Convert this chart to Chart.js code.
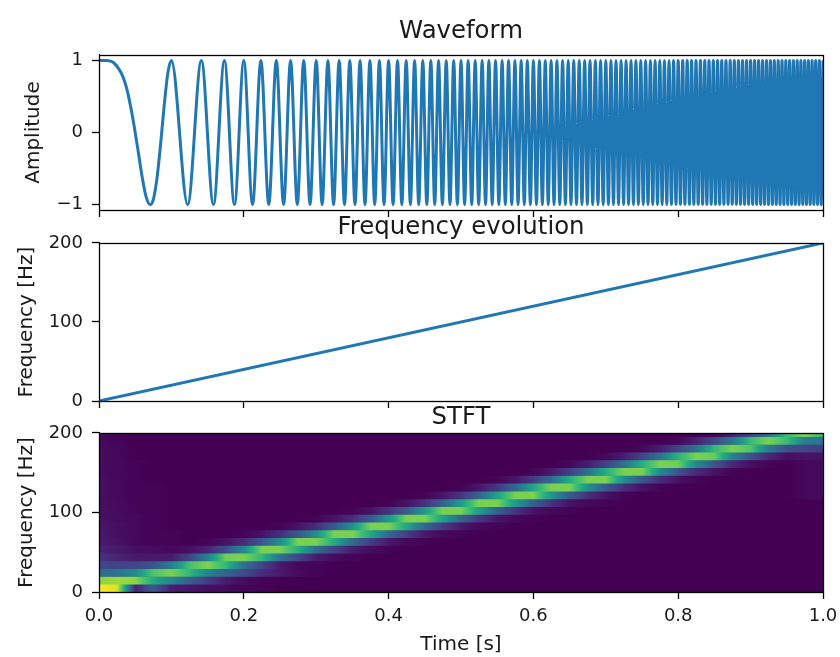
<!DOCTYPE html>
<html><head><meta charset="utf-8">
<style>
html,body{margin:0;padding:0;background:#fff;width:840px;height:657px;overflow:hidden}
canvas{position:absolute;left:0}
</style>
<script src="https://cdn.jsdelivr.net/npm/chart.js@4/dist/chart.umd.min.js"></script>
</head><body>
<canvas id="c1" width="840" height="230" style="top:0"></canvas>
<canvas id="c2" width="840" height="215" style="top:200px"></canvas>
<canvas id="c3" width="840" height="267" style="top:390px"></canvas>
<script>
const xTickValues=[0,0.2,0.4,0.6,0.8,1];
const ampTickValues=[-1,0,1];
const ampTickLabels=["\u22121","0","1"];
const freqTickValues=[0,100,200];
const freqTimes=[0,1];
const freqValues=[0,200];
const waveTimes=[0,0.01,0.02,0.03,0.035,0.04,0.045,0.05,0.055,0.06,0.065,0.0707,0.075,0.08,0.085,0.09,0.095,0.1,
0.1225,0.1414,0.1581,0.1732,0.1871,0.2,0.2121,0.2236,0.2345,0.2449,0.255,0.2646,0.2739,0.2828,0.2915,0.3,
0.3082,0.3162,0.324,0.3317,0.3391,0.3464,0.3536,0.3606,0.3674,0.3742,0.3808,0.3873,0.3937,0.4,0.4062,0.4123,
0.4183,0.4243,0.4301,0.4359,0.4416,0.4472,0.4528,0.4583,0.4637,0.469,0.4743,0.4796,0.4848,0.4899,0.495,0.5,
0.505,0.5099,0.5148,0.5196,0.5244,0.5292,0.5339,0.5385,0.5431,0.5477,0.5523,0.5568,0.5612,0.5657,0.5701,0.5745,
0.5788,0.5831,0.5874,0.5916,0.5958,0.6,0.6042,0.6083,0.6124,0.6164,0.6205,0.6245,0.6285,0.6325,0.6364,0.6403,
0.6442,0.6481,0.6519,0.6557,0.6595,0.6633,0.6671,0.6708,0.6745,0.6782,0.6819,0.6856,0.6892,0.6928,0.6964,0.7,
0.7036,0.7071,0.7106,0.7141,0.7176,0.7211,0.7246,0.728,0.7314,0.7348,0.7382,0.7416,0.745,0.7483,0.7517,0.755,
0.7583,0.7616,0.7649,0.7681,0.7714,0.7746,0.7778,0.781,0.7842,0.7874,0.7906,0.7937,0.7969,0.8,0.8031,0.8062,
0.8093,0.8124,0.8155,0.8185,0.8216,0.8246,0.8276,0.8307,0.8337,0.8367,0.8396,0.8426,0.8456,0.8485,0.8515,0.8544,
0.8573,0.8602,0.8631,0.866,0.8689,0.8718,0.8746,0.8775,0.8803,0.8832,0.886,0.8888,0.8916,0.8944,0.8972,0.9,
0.9028,0.9055,0.9083,0.911,0.9138,0.9165,0.9192,0.922,0.9247,0.9274,0.9301,0.9327,0.9354,0.9381,0.9407,0.9434,
0.946,0.9487,0.9513,0.9539,0.9566,0.9592,0.9618,0.9644,0.967,0.9695,0.9721,0.9747,0.9772,0.9798,0.9823,0.9849,
0.9874,0.9899,0.9925,0.995,0.9975,1];
const waveAmps=[1,0.998,0.97,0.84,0.72,0.54,0.29,0,-0.32,-0.64,-0.89,-1,-0.93,-0.64,-0.17,0.37,0.82,1,
-1,1,-1,1,-1,1,-1,1,-1,1,-1,1,-1,1,-1,1,
-1,1,-1,1,-1,1,-1,1,-1,1,-1,1,-1,1,-1,1,
-1,1,-1,1,-1,1,-1,1,-1,1,-1,1,-1,1,-1,1,
-1,1,-1,1,-1,1,-1,1,-1,1,-1,1,-1,1,-1,1,
-1,1,-1,1,-1,1,-1,1,-1,1,-1,1,-1,1,-1,1,
-1,1,-1,1,-1,1,-1,1,-1,1,-1,1,-1,1,-1,1,
-1,1,-1,1,-1,1,-1,1,-1,1,-1,1,-1,1,-1,1,
-1,1,-1,1,-1,1,-1,1,-1,1,-1,1,-1,1,-1,1,
-1,1,-1,1,-1,1,-1,1,-1,1,-1,1,-1,1,-1,1,
-1,1,-1,1,-1,1,-1,1,-1,1,-1,1,-1,1,-1,1,
-1,1,-1,1,-1,1,-1,1,-1,1,-1,1,-1,1,-1,1,
-1,1,-1,1,-1,1,-1,1,-1,1,-1,1,-1,1,-1,1,
-1,1,-1,1,-1,1];
const stftTimes=[0,0.025,0.05,0.075,0.1,0.125,0.15,0.175,0.2,0.225,0.25,0.275,0.3,0.325,0.35,0.375,0.4,0.425,0.45,0.475,0.5,0.525,0.55,0.575,0.6,0.625,0.65,0.675,0.7,0.725,0.75,0.775,0.8,0.825,0.85,0.875,0.9,0.925,0.95,0.975,1];
const stftFreqCentres=[4.88,14.65,24.41,34.18,43.95,53.71,63.48,73.24,83.01,92.77,102.54,112.3,122.07,131.84,141.6,151.37,161.13,170.9,180.66,190.43,200.2];
const stftRows=[
[100,95,10,28,8,6,4,3,1,1],
[82,85,83,60,45,30,18,8,3,1],
[35,38,48,72,80,66,45,32,22,13,7,3,1],
[22,20,20,26,42,70,80,66,37,20,7,2,1],
[15,10,7,7,8,20,44,78,80,66,37,20,8,3,1],
[10,7,4,3,2,4,10,24,47,80,80,62,36,19,8,3,1],
[8,5,2,1,1,0,1,5,12,26,48,80,80,61,35,18,7,2,1],
[7,4,2,1,1,0,0,0,1,5,13,27,49,80,80,60,34,18,7,2,1],
[6,4,2,1,0,0,0,0,0,0,1,5,13,28,50,80,80,59,33,17,7,2,1],
[5,3,2,1,0,0,0,0,0,0,0,0,1,5,13,28,52,80,80,57,32,16,6,2,1],
[5,3,1,1,0,0,0,0,0,0,0,0,0,0,1,5,14,29,54,80,80,55,31,15,5,2,1],
[4,3,1,1,0,0,0,0,0,0,0,0,0,0,0,0,1,5,14,31,55,80,80,54,30,14,5,2,1],
[4,2,1,1,0,0,0,0,0,0,0,0,0,0,0,0,0,0,1,6,15,32,57,80,80,52,29,13,5,1,0,0,0,0,0,0,0,0,0,2,3],
[4,2,1,1,0,0,0,0,0,0,0,0,0,0,0,0,0,0,0,0,1,6,16,33,59,80,80,50,28,13,5,1,0,0,0,0,0,0,0,2,3],
[4,2,1,0,0,0,0,0,0,0,0,0,0,0,0,0,0,0,0,0,0,0,1,6,17,35,61,80,80,49,27,12,5,1,0,0,0,0,0,2,3],
[3,2,1,0,0,0,0,0,0,0,0,0,0,0,0,0,0,0,0,0,0,0,0,0,1,7,18,36,62,80,80,48,26,12,5,1,0,0,0,2,3],
[3,2,1,0,0,0,0,0,0,0,0,0,0,0,0,0,0,0,0,0,0,0,0,0,0,0,2,8,19,37,62,80,78,47,26,11,4,1,0,2,3],
[3,2,0,0,0,0,0,0,0,0,0,0,0,0,0,0,0,0,0,0,0,0,0,0,0,0,0,0,2,8,20,38,64,80,76,44,25,11,4,5,5],
[3,2,0,0,0,0,0,0,0,0,0,0,0,0,0,0,0,0,0,0,0,0,0,0,0,0,0,0,0,0,2,8,20,38,66,80,72,42,24,20,18],
[3,1,0,0,0,0,0,0,0,0,0,0,0,0,0,0,0,0,0,0,0,0,0,0,0,0,0,0,0,0,0,0,2,9,21,39,68,80,68,42,38],
[3,1,0,0,0,0,0,0,0,0,0,0,0,0,0,0,0,0,0,0,0,0,0,0,0,0,0,0,0,0,0,0,0,0,2,9,21,39,68,80,66]
];
const viridisStops=["#440154","#482475","#414487","#355f8d","#2a788e","#21918c","#22a884","#44bf70","#7ad151","#bddf26","#fde725"];
const lineColor="#1f77b4";
const textColor="#1a1a1a";
const fontFamily="'DejaVu Sans'";

function hexRgb(h){return [1,3,5].map(i=>parseInt(h.substr(i,2),16));}
const stopRgb=viridisStops.map(hexRgb);
function viridis(p){
  const v=Math.max(0,Math.min(1,p/100))*(stopRgb.length-1);
  const i=Math.min(stopRgb.length-2,Math.floor(v)),f=v-i;
  const a=stopRgb[i],b=stopRgb[i+1];
  return `rgb(${a.map((c,j)=>Math.round(c+(b[j]-c)*f)).join(",")})`;
}
function rowGradient(ctx){
  const chart=ctx.chart,xs=chart.scales.x,row=stftRows[ctx.dataIndex];
  if(!row||!xs) return viridisStops[0];
  const x0=xs.getPixelForValue(stftTimes[0]),x1=xs.getPixelForValue(stftTimes[stftTimes.length-1]);
  if(!isFinite(x0)||!isFinite(x1)) return viridisStops[0];
  const g=chart.ctx.createLinearGradient(x0,0,x1,0);
  const span=stftTimes[stftTimes.length-1]-stftTimes[0];
  for(let i=0;i<stftTimes.length-1;i++){
    const a=row[i]??0,b=row[i+1]??0;
    for(let s=0;s<8;s++){
      const f=s/8;
      g.addColorStop((stftTimes[i]+(stftTimes[i+1]-stftTimes[i])*f-stftTimes[0])/span,viridis(a+(b-a)*f));
    }
  }
  g.addColorStop(1,viridis(row[stftTimes.length-1]??0));
  return g;
}
const framePlugin={id:"frame",
  beforeDatasetsDraw(chart,args,opts){
    if(opts.fill){const a=chart.chartArea;chart.ctx.save();chart.ctx.fillStyle=opts.fill;chart.ctx.fillRect(a.left,a.top,a.right-a.left,a.bottom-a.top);chart.ctx.restore();}
  },
  afterDatasetsDraw(chart){
    const a=chart.chartArea,c=chart.ctx;
    c.save();c.strokeStyle="#000";c.lineWidth=1.3;
    c.strokeRect(Math.round(a.left)+0.5,Math.round(a.top)+0.5,Math.round(a.right-a.left),Math.round(a.bottom-a.top));
    c.restore();
  }};
function xAxis(opts){
  return {type:"linear",min:0,max:1,offset:false,position:"bottom",
    afterBuildTicks(s){s.ticks=xTickValues.map(v=>({value:v}));},
    afterFit(s){s.height=opts.height;s.paddingLeft=0;s.paddingRight=0;},
    border:{display:true,color:"#000",width:1},
    grid:{display:true,drawOnChartArea:false,drawTicks:true,tickLength:7,tickColor:"#000",tickWidth:1.3,offset:false},
    ticks:{display:opts.labels,maxRotation:0,autoSkip:false,color:textColor,padding:7,font:{family:fontFamily,size:18},
      callback:v=>Number(v).toFixed(1)},
    title:{display:!!opts.title,text:opts.title||"",color:textColor,padding:{top:3,bottom:0},font:{family:fontFamily,size:20}}};
}
function yAxis(opts){
  return {type:"linear",min:opts.min,max:opts.max,offset:false,position:"left",
    afterBuildTicks(s){s.ticks=opts.ticks.map(v=>({value:v}));},
    afterFit(s){s.width=99;s.paddingTop=0;s.paddingBottom=0;},
    border:{display:true,color:"#000",width:1},
    grid:{display:true,drawOnChartArea:false,drawTicks:true,tickLength:7,tickColor:"#000",tickWidth:1.3,offset:false},
    ticks:{autoSkip:false,color:textColor,padding:9,font:{family:fontFamily,size:18},
      callback:opts.labels?((v,i)=>opts.labels[i]):(v=>String(v))},
    title:{display:true,text:opts.title,color:textColor,padding:{top:opts.titlePad,bottom:0},font:{family:fontFamily,size:20}}};
}
function basePlugins(title,titlePad){
  return {legend:{display:false},tooltip:{enabled:false},
      title:{display:true,text:title,color:textColor,align:"center",fullSize:false,
        font:{family:fontFamily,size:24.4,weight:"normal",lineHeight:1.2},padding:titlePad}};
}
function baseOptions(bottomPad){
  return {responsive:false,animation:false,events:[],
    layout:{padding:{left:0,right:17,top:0,bottom:bottomPad}}};
}
Chart.defaults.font.family=fontFamily;

new Chart(document.getElementById("c1"),{type:"line",plugins:[framePlugin],
  data:{datasets:[{data:waveTimes.map((t,i)=>({x:t,y:waveAmps[i]})),borderColor:lineColor,borderWidth:3,pointRadius:0,cubicInterpolationMode:"monotone",fill:false}]},
  options:Object.assign(baseOptions(12),{plugins:basePlugins("Waveform",{top:17.4,bottom:8.3}),scales:{
    x:xAxis({height:8,labels:false}),
    y:yAxis({min:-1.075,max:1.075,ticks:ampTickValues,labels:ampTickLabels,title:"Amplitude",titlePad:22})}})});

new Chart(document.getElementById("c2"),{type:"line",plugins:[framePlugin],
  data:{datasets:[{data:freqTimes.map((t,i)=>({x:t,y:freqValues[i]})),borderColor:lineColor,borderWidth:3,pointRadius:0,fill:false}]},
  options:Object.assign(baseOptions(6),{plugins:basePlugins("Frequency evolution",{top:13.4,bottom:0.3}),scales:{
    x:xAxis({height:8,labels:false}),
    y:yAxis({min:0,max:200,ticks:freqTickValues,title:"Frequency [Hz]",titlePad:15})}})});

new Chart(document.getElementById("c3"),{type:"bar",plugins:[framePlugin],
  data:{datasets:[{data:stftFreqCentres.map(f=>({y:f,x:[stftTimes[0],stftTimes[stftTimes.length-1]]})),
    backgroundColor:rowGradient,borderWidth:0,barPercentage:1,categoryPercentage:1}]},
  options:Object.assign(baseOptions(0),{indexAxis:"y",
    plugins:Object.assign(basePlugins("STFT",{top:13.4,bottom:0.3}),{frame:{fill:viridisStops[0]}}),
    scales:{
    x:xAxis({height:65,labels:true,title:"Time [s]"}),
    y:yAxis({min:0,max:200,ticks:freqTickValues,title:"Frequency [Hz]",titlePad:15})}})});
</script>
</body></html>
